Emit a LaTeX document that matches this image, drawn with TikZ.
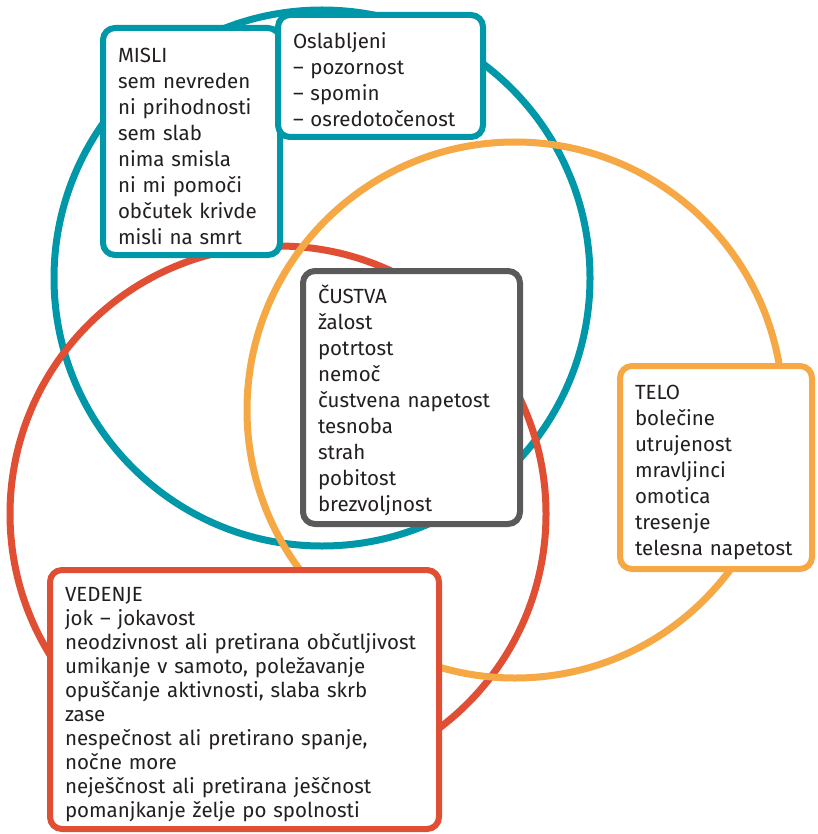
\documentclass[tikz,border=0pt]{standalone}
\usepackage{fontspec}
\setmainfont{Fira Sans}
\definecolor{mislic}{RGB}{0,152,168}
\definecolor{teloc}{RGB}{245,168,68}
\definecolor{vedc}{RGB}{224,78,52}
\definecolor{custc}{RGB}{90,90,90}
\definecolor{txtc}{RGB}{35,31,32}
\begin{document}
\begin{tikzpicture}[x=1pt, y=-1pt, line width=7pt,
  box/.style={draw, fill=white, line width=6pt, rounded corners=12pt, anchor=north west,
    align=left, inner xsep=15pt, inner ysep=0pt, text=txtc, font=\fontsize{20.5}{26}\selectfont,
    execute at begin node={\rule{0pt}{24pt}}}]
  \useasboundingbox (0,0) rectangle (817,834);
  \draw[mislic] (322,278) circle[radius=268pt];
  \draw[vedc] (278,514) circle[radius=268pt];
  \draw[teloc] (515,410) circle[radius=268pt];
  \node[box, draw=mislic, text width=147pt, minimum height=227pt] (misli) at (100,25)
    {MISLI\\sem nevreden\\ni prihodnosti\\sem slab\\nima smisla\\ni mi pomoči\\občutek krivde\\misli na smrt};
  \node[box, draw=mislic, text width=175pt, minimum height=122pt] (oslab) at (275,12)
    {Oslabljeni\\– pozornost\\– spomin\\– osredotočenost};
  \node[box, draw=custc, text width=187pt, minimum height=253pt] (custva) at (300,268)
    {ČUSTVA\\žalost\\potrtost\\nemoč\\čustvena napetost\\tesnoba\\strah\\pobitost\\brezvoljnost};
  \node[box, draw=teloc, text width=162pt, minimum height=203pt] (telo) at (617,363)
    {TELO\\bolečine\\utrujenost\\mravljinci\\omotica\\tresenje\\telesna napetost};
  \node[box, draw=vedc, text width=359pt, minimum height=259pt, font=\fontsize{20.5}{24}\selectfont] (vedenje) at (47,567)
    {VEDENJE\\jok – jokavost\\neodzivnost ali pretirana občutljivost\\umikanje v samoto, poležavanje\\opuščanje aktivnosti, slaba skrb\\zase\\nespečnost ali pretirano spanje,\\nočne more\\neješčnost ali pretirana ješčnost\\pomanjkanje želje po spolnosti};
\end{tikzpicture}
\end{document}
